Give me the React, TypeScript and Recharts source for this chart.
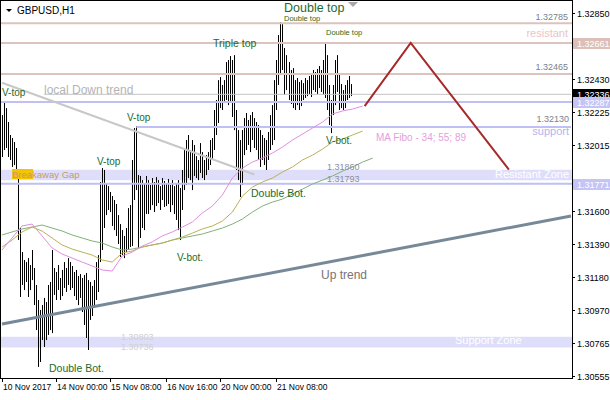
import React from 'react';
import {
  ComposedChart,
  Bar,
  Line,
  XAxis,
  YAxis,
  ReferenceLine,
  ReferenceArea
} from 'recharts';

const FONT = "'Liberation Sans', Arial, sans-serif";
const NOTE_GREEN = '#1d6b2a';

// GBPUSD H1 bars (high / low), oldest first
const barHigh = [
  1.32205, 1.32294, 1.32249, 1.32161, 1.32079, 1.32060, 1.32035, 1.31997, 1.31826, 1.31491,
  1.31339, 1.31289, 1.31276, 1.31301, 1.31257, 1.31352, 1.31238, 1.31131, 1.31036, 1.30973,
  1.31004, 1.31049, 1.31023, 1.31131, 1.31150, 1.31352, 1.31238, 1.31213, 1.31257, 1.31175,
  1.31226, 1.31276, 1.31238, 1.31301, 1.31276, 1.31251, 1.31213, 1.31226, 1.31188, 1.31200,
  1.31175, 1.31194, 1.31207, 1.31162, 1.31150, 1.31125, 1.31162, 1.31276, 1.31320, 1.31782,
  1.31870, 1.31858, 1.31775, 1.31756, 1.31719, 1.31693, 1.31668, 1.31643, 1.31573, 1.31516,
  1.31478, 1.31441, 1.31491, 1.31617, 1.31636, 1.31921, 1.32123, 1.32136, 1.31826, 1.31820,
  1.31794, 1.31769, 1.31820, 1.31794, 1.31763, 1.31807, 1.31782, 1.31813, 1.31794, 1.31756,
  1.31807, 1.31788, 1.31769, 1.31801, 1.31763, 1.31794, 1.31756, 1.31775, 1.31794, 1.31744,
  1.31858, 1.31984, 1.32047, 1.32079, 1.31984, 1.32047, 1.32016, 1.31946, 1.31921, 1.32028,
  1.31971, 1.31921, 1.31952, 1.31971, 1.32047, 1.32060, 1.32237, 1.32300, 1.32426, 1.32445,
  1.32395, 1.32426, 1.32540, 1.32553, 1.32578, 1.32553, 1.32584, 1.32237, 1.32110, 1.32047,
  1.32110, 1.32186, 1.32218, 1.32174, 1.32205, 1.32224, 1.32186, 1.32161, 1.32142, 1.32110,
  1.32079, 1.32060, 1.32047, 1.32098, 1.32205, 1.32268, 1.32426, 1.32553, 1.32711, 1.32793,
  1.32780, 1.32629, 1.32584, 1.32540, 1.32490, 1.32502, 1.32426, 1.32439, 1.32414, 1.32426,
  1.32407, 1.32439, 1.32426, 1.32452, 1.32471, 1.32490, 1.32477, 1.32496, 1.32515, 1.32490,
  1.32553, 1.32667, 1.32584, 1.32395, 1.32300, 1.32395, 1.32553, 1.32584, 1.32458, 1.32401,
  1.32363, 1.32395, 1.32426, 1.32452, 1.32401
];
const barLow = [
  1.31940, 1.31984, 1.31997, 1.31940, 1.31921, 1.31877, 1.31889, 1.31807, 1.31415, 1.31055,
  1.31131, 1.31099, 1.31150, 1.31055, 1.31099, 1.31162, 1.31004, 1.30846, 1.30613, 1.30644,
  1.30783, 1.30739, 1.30783, 1.30815, 1.30846, 1.30827, 1.31068, 1.31036, 1.31099, 1.31036,
  1.31061, 1.31112, 1.31087, 1.31131, 1.31099, 1.31112, 1.31061, 1.31036, 1.31004, 1.31049,
  1.30960, 1.30878, 1.30796, 1.30720, 1.30910, 1.30935, 1.30998, 1.31036, 1.31087, 1.31276,
  1.31352, 1.31491, 1.31573, 1.31605, 1.31592, 1.31504, 1.31478, 1.31441, 1.31390, 1.31308,
  1.31320, 1.31301, 1.31339, 1.31352, 1.31371, 1.31377, 1.31668, 1.31731, 1.31365, 1.31428,
  1.31491, 1.31478, 1.31580, 1.31580, 1.31605, 1.31636, 1.31592, 1.31630, 1.31649, 1.31605,
  1.31668, 1.31624, 1.31630, 1.31643, 1.31592, 1.31636, 1.31580, 1.31542, 1.31478, 1.31415,
  1.31605, 1.31731, 1.31763, 1.31807, 1.31794, 1.31731, 1.31820, 1.31807, 1.31794, 1.31839,
  1.31807, 1.31794, 1.31826, 1.31858, 1.31889, 1.31921, 1.31984, 1.32079, 1.32155, 1.32249,
  1.32237, 1.32281, 1.32300, 1.32268, 1.32287, 1.32193, 1.32110, 1.31858, 1.31794, 1.31687,
  1.31763, 1.31952, 1.31984, 1.32016, 1.31971, 1.32047, 1.31997, 1.31984, 1.31921, 1.31877,
  1.31921, 1.31889, 1.31858, 1.31921, 1.31984, 1.32016, 1.32047, 1.32237, 1.32395, 1.32458,
  1.32490, 1.32332, 1.32363, 1.32300, 1.32275, 1.32249, 1.32237, 1.32268, 1.32237, 1.32262,
  1.32300, 1.32313, 1.32325, 1.32338, 1.32319, 1.32363, 1.32351, 1.32338, 1.32376, 1.32351,
  1.32332, 1.32313, 1.32237, 1.32142, 1.32091, 1.32205, 1.32268, 1.32351, 1.32237, 1.32249,
  1.32237, 1.32249, 1.32300, 1.32313, 1.32325
];

// MA Fibo 34 / 55 / 89, read every 5 bars
const maBar = [
  0, 5, 10, 15, 20, 25, 30, 35, 40, 45, 50, 55, 60, 65, 70, 75, 80, 85, 90,
  95, 100, 105, 110, 115, 120, 125, 130, 135, 140, 145, 150, 155, 160, 165, 170, 175, 180, 185
];
const ma34 = [
  1.31352, 1.31428, 1.31504, 1.31516, 1.31441, 1.31365, 1.31327, 1.31301, 1.31276, 1.31251,
  1.31226, 1.31219, 1.31314, 1.31339, 1.31377, 1.31403, 1.31441, 1.31466, 1.31497, 1.31529,
  1.31586, 1.31630, 1.31700, 1.31807, 1.31870, 1.31908, 1.31933, 1.31965, 1.32003, 1.32047,
  1.32085, 1.32123, 1.32161, 1.32212, 1.32231, 1.32243, 1.32262, null
];
const ma55 = [
  1.31371, 1.31415, 1.31466, 1.31497, 1.31472, 1.31428, 1.31384, 1.31358, 1.31339, 1.31320,
  1.31289, 1.31276, 1.31333, 1.31346, 1.31371, 1.31384, 1.31396, 1.31415, 1.31434, 1.31459,
  1.31485, 1.31504, 1.31535, 1.31592, 1.31693, 1.31750, 1.31782, 1.31807, 1.31845, 1.31877,
  1.31921, 1.31952, 1.31990, 1.32035, 1.32054, 1.32079, 1.32104, null
];
const ma89 = [
  1.31447, 1.31466, 1.31485, 1.31497, 1.31510, 1.31491, 1.31472, 1.31447, 1.31428, 1.31409,
  1.31396, 1.31371, 1.31352, 1.31358, 1.31371, 1.31384, 1.31396, 1.31415, 1.31428, 1.31441,
  1.31453, 1.31472, 1.31491, 1.31516, 1.31548, 1.31592, 1.31630, 1.31655, 1.31674, 1.31706,
  1.31737, 1.31769, 1.31794, 1.31820, 1.31851, 1.31877, 1.31908, 1.31933
];

// projected move (bar slot, price)
const projBar = [181, 204, 253];
const projPrice = [1.32262, 1.32661, 1.31860];

// levels and zones
const resistLevels = [1.32785, 1.32661, 1.32465];
const supportLevels = [1.32287, 1.31771];
const supportLine = 1.32130;
const bidPrice = 1.32336;
const resistZone = [1.31793, 1.31860];
const supportZone = [1.30736, 1.30803];
const downTrend = [{ x: 0, y: 1.32409 }, { x: 126, y: 1.31829 }];
const upTrend = [{ x: 0, y: 1.30884 }, { x: 284, y: 1.31567 }];

const timeTickBar = [0, 27, 54, 82, 109, 137];
const timeTickLabel = ['10 Nov 2017', '14 Nov 00:00', '15 Nov 08:00', '16 Nov 16:00', '20 Nov 00:00', '21 Nov 08:00'];

const priceTicks = [1.3285, 1.3243, 1.32225, 1.32015, 1.316, 1.3139, 1.3118, 1.3097, 1.30765, 1.30555];
const axisMarks = [
  { price: 1.32661, bg: '#dcbfb8' },
  { price: 1.32336, bg: '#000000' },
  { price: 1.32287, bg: '#c4c4f6' },
  { price: 1.31771, bg: '#c4c4f6' }
];

const SLOTS = 285;

type Row = {
  i: number;
  hl?: [number, number];
  ma34?: number | null;
  ma55?: number | null;
  ma89?: number | null;
  proj?: number;
};

const rows: Row[] = [];
for (let i = 0; i < SLOTS; i++) rows.push({ i });
barHigh.forEach((h, i) => { rows[i].hl = [barLow[i], h]; });
maBar.forEach((b, k) => {
  rows[b].ma34 = ma34[k];
  rows[b].ma55 = ma55[k];
  rows[b].ma89 = ma89[k];
});
projBar.forEach((b, k) => { rows[b].proj = projPrice[k]; });

// text notes drawn over the chart
const notes = [
  { t: 'GBPUSD,H1', x: 17, y: 14, s: 10, c: '#000' },
  { t: 'Double top', x: 284, y: 12, s: 12.5, c: NOTE_GREEN },
  { t: 'Double top', x: 284, y: 21, s: 7.5, c: NOTE_GREEN },
  { t: 'Double top', x: 326, y: 35, s: 7.5, c: NOTE_GREEN },
  { t: 'Triple top', x: 213, y: 47, s: 10.5, c: NOTE_GREEN },
  { t: 'V-top', x: 2, y: 96, s: 10, c: NOTE_GREEN },
  { t: 'V-top', x: 127, y: 121, s: 10, c: NOTE_GREEN },
  { t: 'V-top', x: 97, y: 165, s: 10, c: NOTE_GREEN },
  { t: 'V-bot.', x: 177, y: 261, s: 10, c: NOTE_GREEN },
  { t: 'V-bot.', x: 326, y: 144, s: 10, c: NOTE_GREEN },
  { t: 'Double Bot.', x: 251, y: 197, s: 10.5, c: NOTE_GREEN },
  { t: 'Double Bot.', x: 49, y: 372, s: 10.5, c: NOTE_GREEN },
  { t: 'local Down trend', x: 44, y: 94, s: 12, c: '#b4b4b4' },
  { t: 'Breakaway Gap', x: 12, y: 178, s: 9.5, c: '#c49a6c' },
  { t: 'MA Fibo - 34; 55; 89', x: 376, y: 141, s: 10, c: '#e4a0dc' },
  { t: 'support', x: 569, y: 135, s: 11, c: '#b4b4f0', a: 'end' },
  { t: 'resistant', x: 568, y: 37, s: 11, c: '#e8c6c6', a: 'end' },
  { t: '1.32785', x: 568, y: 20, s: 9, c: '#7a7f8c', a: 'end' },
  { t: '1.32465', x: 568, y: 70, s: 9, c: '#7a7f8c', a: 'end' },
  { t: '1.32130', x: 569, y: 122, s: 9, c: '#7a7f8c', a: 'end' },
  { t: 'Resistant Zone', x: 569, y: 178, s: 11, c: '#ffffff', a: 'end' },
  { t: '1.31860', x: 327, y: 170, s: 9, c: '#8a8fa0' },
  { t: '1.31793', x: 327, y: 182, s: 9, c: '#8a8fa0' },
  { t: '1.30803', x: 121, y: 340, s: 9, c: '#d0d0d0' },
  { t: '1.30736', x: 121, y: 350, s: 9, c: '#d0d0d0' },
  { t: 'Support Zone', x: 455, y: 344, s: 11, c: '#ffffff' },
  { t: 'Up trend', x: 321, y: 279, s: 12, c: '#7a7272' }
];

function HLBar(props: any) {
  const { x, y, width, height } = props;
  if (x == null || y == null || height == null) return null;
  const top = Math.min(y, y + height);
  const h = Math.max(Math.abs(height), 1);
  return <rect x={Math.round(x + width / 2 - 0.5)} y={top} width={1} height={h} fill="#000" />;
}

function TimeTick({ x, y, payload }: any) {
  const k = timeTickBar.indexOf(payload.value);
  const xx = Math.round(x);
  return (
    <g>
      <line x1={xx + 0.5} x2={xx + 0.5} y1={y} y2={y + 4} stroke="#000" />
      <text x={xx + 1} y={y + 12} fontSize={8.5} fontFamily={FONT} fill="#000">
        {k >= 0 ? timeTickLabel[k] : ''}
      </text>
    </g>
  );
}

function PriceTick({ x, y, payload }: any) {
  const v = payload.value as number;
  const mark = axisMarks.find((m) => m.price === v);
  const yy = Math.round(y);
  if (mark) {
    return (
      <g>
        <rect x={x} y={yy - 5} width={38} height={11} fill={mark.bg} />
        <text x={x + 5} y={yy + 4} fontSize={9} fontFamily={FONT} fill="#fff">{v.toFixed(5)}</text>
      </g>
    );
  }
  return (
    <g>
      <line x1={x} x2={x + 3} y1={yy + 0.5} y2={yy + 0.5} stroke="#000" />
      <text x={x + 5} y={yy + 4} fontSize={9} fontFamily={FONT} fill="#000">{v.toFixed(5)}</text>
    </g>
  );
}

export default function App() {
  return (
    <div style={{ position: 'absolute', left: 0, top: 0, width: 610, height: 400, background: '#fff' }}>
      <ComposedChart
        width={610}
        height={400}
        data={rows}
        margin={{ top: 1, right: 0, bottom: 0, left: 1 }}
        barCategoryGap={0}
      >
        <XAxis
          dataKey="i"
          type="category"
          ticks={timeTickBar}
          interval={0}
          tick={<TimeTick />}
          tickLine={false}
          axisLine={false}
          tickSize={0}
          tickMargin={0}
          height={22}
        />
        <YAxis
          orientation="right"
          type="number"
          domain={[1.30543, 1.32926]}
          allowDataOverflow
          ticks={[...priceTicks, ...axisMarks.map((m) => m.price)]}
          interval={0}
          tick={<PriceTick />}
          tickLine={false}
          axisLine={false}
          tickSize={0}
          tickMargin={0}
          width={38}
        />

        {/* zones */}
        <ReferenceArea y1={resistZone[0]} y2={resistZone[1]} fill="#dedefa" fillOpacity={1} stroke="none" />
        <ReferenceArea y1={supportZone[0]} y2={supportZone[1]} fill="#dedefa" fillOpacity={1} stroke="none" />

        {/* horizontal levels */}
        {resistLevels.map((p) => (
          <ReferenceLine key={'r' + p} y={p} stroke="#dcc3bd" strokeWidth={2} />
        ))}
        {supportLevels.map((p) => (
          <ReferenceLine key={'s' + p} y={p} stroke="#c0c0f4" strokeWidth={2} />
        ))}
        <ReferenceLine
          segment={[{ x: 67, y: supportLine }, { x: SLOTS - 1, y: supportLine }]}
          stroke="#c0c0f4"
          strokeWidth={2}
        />
        <ReferenceLine
          segment={[{ x: 21, y: bidPrice }, { x: SLOTS - 1, y: bidPrice }]}
          stroke="#c4c4c4"
          strokeWidth={1}
        />

        <Bar dataKey="hl" barSize={1} shape={<HLBar />} isAnimationActive={false} />

        <Line type="linear" dataKey="ma89" stroke="#80b07a" strokeWidth={1} dot={false} connectNulls isAnimationActive={false} />
        <Line type="linear" dataKey="ma55" stroke="#bab056" strokeWidth={1} dot={false} connectNulls isAnimationActive={false} />
        <Line type="linear" dataKey="ma34" stroke="#e08ee0" strokeWidth={1} dot={false} connectNulls isAnimationActive={false} />

        {/* trend lines */}
        <ReferenceLine segment={downTrend} stroke="#c8c8c8" strokeWidth={2} ifOverflow="visible" />
        <ReferenceLine segment={upTrend} stroke="#778899" strokeWidth={3} ifOverflow="visible" />

        <Line type="linear" dataKey="proj" stroke="#a52a2a" strokeWidth={2} dot={false} connectNulls isAnimationActive={false} />
      </ComposedChart>

      <svg
        width={610}
        height={400}
        style={{ position: 'absolute', left: 0, top: 0, pointerEvents: 'none' }}
      >
        <polygon points="6,9 12,9 9,12" fill="#000" />
        <polygon points="348,2 358,2 353,7" fill="#a8a8a8" />
        <rect x={12} y={169} width={21} height={10} fill="#f4c400" />
        {notes.map((n, k) => (
          <text
            key={k}
            x={n.x}
            y={n.y}
            fontSize={n.s}
            fontFamily={FONT}
            fill={n.c}
            textAnchor={(n as any).a || 'start'}
          >
            {n.t}
          </text>
        ))}
      </svg>

      <div
        style={{
          position: 'absolute',
          left: 0,
          top: 0,
          width: 573,
          height: 379,
          border: '1px solid #000',
          boxSizing: 'border-box',
          pointerEvents: 'none'
        }}
      />
    </div>
  );
}
